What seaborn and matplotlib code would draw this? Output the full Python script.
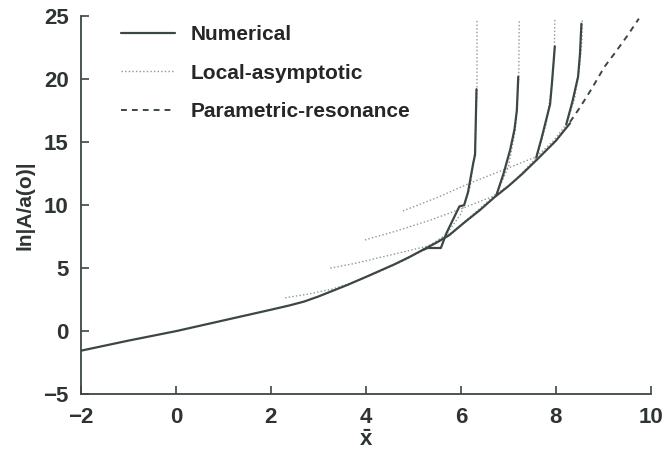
import matplotlib
matplotlib.use("Agg")
import matplotlib.pyplot as plt
import seaborn as sns

# main numerical curve (x-bar, ln|A/a(o)|)
main_x = [-2.0, -1.0, 0.0, 1.0, 2.0, 2.4, 2.7, 3.0, 3.3, 3.6, 4.0, 4.3, 4.6, 4.9, 5.2, 5.5,
          5.75, 6.1, 6.4, 6.7, 7.0, 7.3, 7.6, 8.0, 8.3]
main_y = [-1.55, -0.75, 0.0, 0.85, 1.7, 2.05, 2.35, 2.75, 3.2, 3.65, 4.3, 4.8, 5.3, 5.85, 6.45, 7.05,
          7.6, 8.7, 9.6, 10.6, 11.5, 12.5, 13.6, 15.1, 16.5]

# numerical branches that blow up
b1_x = [5.2, 5.3, 5.58, 5.7, 5.97, 6.07, 6.15, 6.26, 6.3, 6.33]
b1_y = [6.45, 6.6, 6.6, 7.8, 9.9, 10.0, 11.0, 13.3, 14.0, 19.2]
b2_x = [6.75, 6.9, 7.04, 7.13, 7.18, 7.21]
b2_y = [10.8, 12.5, 14.4, 16.0, 17.5, 20.2]
b3_x = [7.59, 7.7, 7.8, 7.88, 7.92, 7.98]
b3_y = [13.8, 15.3, 16.8, 18.0, 19.7, 22.6]
b4_x = [8.22, 8.35, 8.47, 8.51, 8.54]
b4_y = [16.4, 18.2, 20.2, 22.0, 24.4]

# local-asymptotic curves
la1_x = [2.3, 2.8, 3.3, 3.8, 4.3, 4.8, 5.3, 5.7, 6.0, 6.2, 6.3, 6.34, 6.34]
la1_y = [2.65, 2.95, 3.35, 3.95, 4.75, 5.6, 6.6, 7.7, 9.3, 11.5, 14.5, 19.0, 24.7]
la2_x = [3.25, 3.8, 4.3, 4.8, 5.3, 5.8, 6.3, 6.75, 7.0, 7.15, 7.22, 7.23]
la2_y = [5.0, 5.4, 5.85, 6.3, 6.75, 7.8, 9.4, 10.9, 13.0, 16.0, 20.0, 24.7]
la3_x = [3.98, 4.6, 5.35, 6.0, 6.68, 7.1, 7.6, 7.8, 7.92, 7.97, 7.98]
la3_y = [7.24, 7.9, 8.8, 9.7, 10.7, 11.8, 13.8, 16.5, 19.5, 22.0, 24.7]
la4_x = [4.78, 5.5, 6.18, 6.9, 7.59, 7.95, 8.22, 8.4, 8.5, 8.55, 8.56]
la4_y = [9.54, 10.6, 11.73, 12.8, 13.84, 15.1, 16.4, 18.5, 21.0, 23.0, 24.7]

# parametric-resonance continuation
pr_x = [8.3, 8.5, 8.75, 9.03, 9.25, 9.5, 9.75]
pr_y = [16.6, 17.7, 19.2, 21.0, 22.1, 23.4, 24.8]

labels = ["Numerical", "Local-asymptotic", "Parametric-resonance"]

sns.set_style("ticks")
plt.rcParams['font.family'] = ['Liberation Sans', 'DejaVu Sans']
plt.rcParams['font.weight'] = 'bold'
plt.rcParams['mathtext.fontset'] = 'custom'
plt.rcParams['mathtext.bf'] = 'Liberation Sans:bold'
plt.rcParams['mathtext.rm'] = 'Liberation Sans:bold'

dark = "#3c4742"
light = "#8e9893"

fig = plt.figure(figsize=(6.64, 4.61), dpi=100)
ax = fig.add_axes([0.122, 0.145, 0.858, 0.82])

dot = (0, (1, 1.6))
for lx, ly in [(la1_x, la1_y), (la2_x, la2_y), (la3_x, la3_y), (la4_x, la4_y)]:
    sns.lineplot(x=lx, y=ly, ax=ax, color=light, lw=1.0, linestyle=dot,
                 sort=False, estimator=None)
for bx, by in [(main_x, main_y), (b1_x, b1_y), (b2_x, b2_y), (b3_x, b3_y), (b4_x, b4_y)]:
    sns.lineplot(x=bx, y=by, ax=ax, color=dark, lw=1.6, sort=False, estimator=None)
sns.lineplot(x=pr_x, y=pr_y, ax=ax, color=dark, lw=1.4, linestyle=(0, (3, 2.6)),
             sort=False, estimator=None)

lines = ax.get_lines()
handles = [lines[4], lines[0], lines[-1]]
ax.legend(handles, labels, loc="upper left", bbox_to_anchor=(0.07, 0.977),
          frameon=False, fontsize=15, handlelength=2.6, handletextpad=0.75,
          labelspacing=0.95, borderpad=0, borderaxespad=0)

ax.set_xlim(-2, 10)
ax.set_ylim(-5, 25)
ax.set_xticks([-2, 0, 2, 4, 6, 8, 10])
ax.set_yticks([-5, 0, 5, 10, 15, 20, 25])
ax.tick_params(direction="in", length=6, width=1.2, labelsize=16, pad=9, colors=dark)
for lab in ax.get_xticklabels() + ax.get_yticklabels():
    lab.set_fontweight("bold")
    lab.set_color("#2e3531")
sns.despine(ax=ax)
for s in ["left", "bottom"]:
    ax.spines[s].set_color(dark)
    ax.spines[s].set_linewidth(1.3)

ax.set_xlabel(r"$\bar{\mathbf{x}}$", fontsize=16, color="#2e3531", labelpad=2)
ax.set_ylabel("ln|A/a(o)|", fontsize=15, fontweight="bold", color="#2e3531", labelpad=6)

fig.savefig("out.png", dpi=100, facecolor="white")
